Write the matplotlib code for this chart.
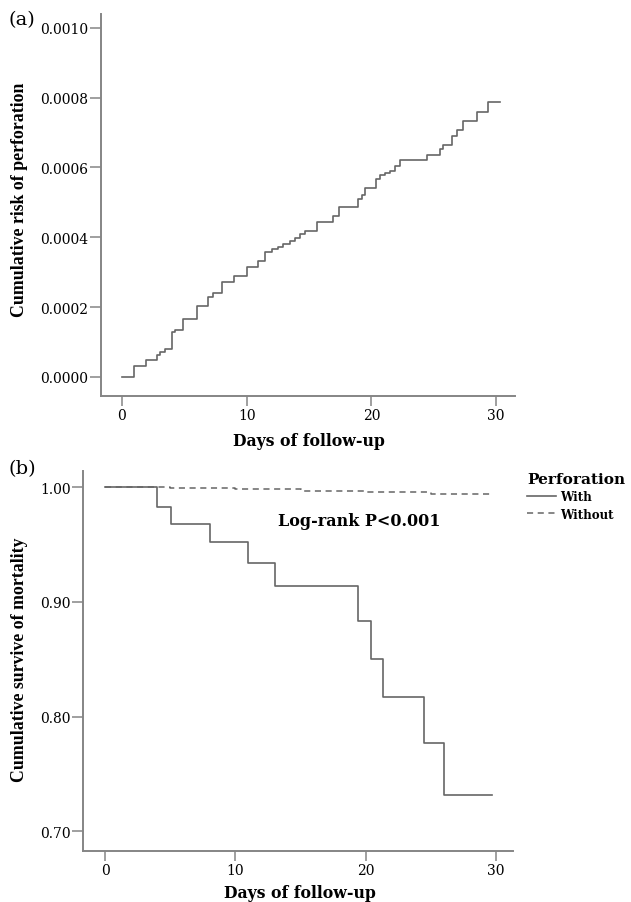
import numpy as np
import matplotlib.pyplot as plt

plt.rcParams['font.family'] = ['DejaVu Serif']

# (a) cumulative risk of perforation
days_a = [0, 0.96, 1.92, 2.81, 3.05, 3.45, 4.01, 4.25, 4.89, 6.01, 6.9, 7.3,
          8.02, 8.98, 10.02, 10.9, 11.47, 12.03, 12.51, 12.91, 13.47, 13.87,
          14.27, 14.68, 15.64, 16.92, 17.4, 18.93, 19.25, 19.49, 20.37, 20.69,
          21.09, 21.49, 21.89, 22.29, 24.46, 25.5, 25.74, 26.46, 26.86, 27.35,
          28.47, 29.35, 30.31]
risk_a = [0, 0.000032, 0.000049, 0.000063, 0.000072, 0.00008, 0.000129,
          0.000135, 0.000166, 0.000204, 0.00023, 0.000241, 0.000273, 0.00029,
          0.000315, 0.000333, 0.000359, 0.000365, 0.000373, 0.000382, 0.00039,
          0.000399, 0.000408, 0.000419, 0.000445, 0.00046, 0.000488, 0.000511,
          0.000522, 0.00054, 0.000568, 0.000577, 0.000583, 0.000591, 0.000603,
          0.00062, 0.000635, 0.000654, 0.000663, 0.000689, 0.000706, 0.000732,
          0.00076, 0.000789, 0.000789]
yticks_a = [0, 0.0002, 0.0004, 0.0006, 0.0008, 0.0010]
ylabels_a = ['0.0000', '0.0002', '0.0004', '0.0006', '0.0008', '0.0010']

# (b) survival curves
days_with = [0, 4.0, 5.07, 8.06, 10.97, 13.05, 19.42, 20.41, 21.34, 24.48, 26.02, 29.7]
surv_with = [1.0, 0.983, 0.968, 0.952, 0.934, 0.914, 0.883, 0.850, 0.817, 0.777, 0.732, 0.732]
days_without = [0, 5, 10, 15, 20, 25, 29.7]
surv_without = [1.0, 0.999, 0.998, 0.997, 0.996, 0.994, 0.993]
yticks_b = [0.70, 0.80, 0.90, 1.00]
ylabels_b = ['0.70', '0.80', '0.90', '1.00']
xticks = [0, 10, 20, 30]

line_col = '#666666'
spine_col = '#858585'

fig = plt.figure(figsize=(6.31, 9.03), dpi=100)
ax1 = fig.add_axes([0.160, 0.5604, 0.656, 0.4230])
ax2 = fig.add_axes([0.1315, 0.0565, 0.6815, 0.4208])

for ax in (ax1, ax2):
    for s in ('top', 'right'):
        ax.spines[s].set_visible(False)
    for s in ('left', 'bottom'):
        ax.spines[s].set_color(spine_col)
        ax.spines[s].set_linewidth(1.4)
    ax.tick_params(axis='y', length=8, width=1.1, color=spine_col, pad=1, labelsize=10)
    ax.tick_params(axis='x', length=7, width=1.1, color=spine_col, pad=2, labelsize=10)
    ax.set_xticks(xticks)

ax1.step(days_a, risk_a, where='post', color=line_col, lw=1.2)
ax1.set_xlim(-1.68, 31.5)
ax1.set_ylim(-0.000055, 0.00104)
ax1.set_yticks(yticks_a)
ax1.set_yticklabels(ylabels_a)
ax1.set_xlabel('Days of follow-up', fontsize=11.3, fontweight='bold', va='top')
ax1.xaxis.set_label_coords(0.502, -0.094)
ax1.set_ylabel('Cumulative risk of perforation', fontsize=12.8, fontweight='bold',
               family='Liberation Serif')
ax1.yaxis.set_label_coords(-0.176, 0.516)

ax2.step(days_with, surv_with, where='post', color=line_col, lw=1.2, label='With')
ax2.step(days_without, surv_without, where='post', color=line_col, lw=1.1,
         ls=(0, (4, 3)), label='Without')
ax2.set_xlim(-1.69, 31.3)
ax2.set_ylim(0.683, 1.014)
ax2.set_yticks(yticks_b)
ax2.set_yticklabels(ylabels_b)
ax2.set_xlabel('Days of follow-up', fontsize=11.3, fontweight='bold', va='top')
ax2.xaxis.set_label_coords(0.505, -0.088)
ax2.set_ylabel('Cumulative survive of mortality', fontsize=12.8, fontweight='bold',
               family='Liberation Serif')
ax2.yaxis.set_label_coords(-0.128, 0.505)
ax2.text(13.3, 0.971, 'Log-rank P<0.001', fontsize=11.5, fontweight='bold', va='center')

leg = ax2.legend(loc='upper left', bbox_to_anchor=(0.835, 0.476),
                 bbox_transform=fig.transFigure, frameon=False, borderpad=0,
                 borderaxespad=0, handlelength=2.4, handletextpad=0.4,
                 labelspacing=0.35, title='Perforation', alignment='left',
                 prop={'size': 8.6, 'weight': 'bold'},
                 title_fontproperties={'size': 11.1, 'weight': 'bold'})

fig.text(0.013, 0.978, '(a)', fontsize=14, va='center')
fig.text(0.013, 0.480, '(b)', fontsize=14, va='center')

plt.savefig('out.png', dpi=100)
